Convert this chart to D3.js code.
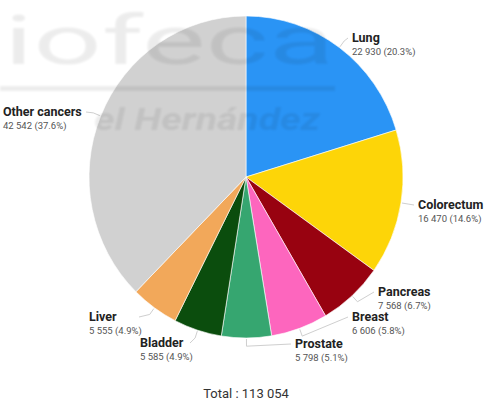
<!DOCTYPE html>
<html>
<head>
<meta charset="utf-8">
<script src="https://cdn.jsdelivr.net/npm/d3@7"></script>
<style>
  body { margin: 0; background: #fff; }
  svg { display: block; font-family: Roboto, "Liberation Sans", Arial, sans-serif; }
</style>
</head>
<body>
<div class="canva"></div>
<script>
// data
const cancers = ["Lung", "Colorectum", "Pancreas", "Breast", "Prostate", "Bladder", "Liver", "Other cancers"];
const cases = [22930, 16470, 7568, 6606, 5798, 5585, 5555, 42542];
const sliceColors = ["#2a94f5", "#fdd508", "#980210", "#fd66be", "#36a670", "#0b4d0d", "#f2a85a", "#d1d1d1"];
const totalLabel = "Total : 113 054";

// label layout (name baseline anchor), kept apart from data
const labelAt = {
  "Lung": [352, 42], "Colorectum": [418, 209], "Pancreas": [378, 296], "Breast": [352, 321],
  "Prostate": [295, 348], "Bladder": [140, 347], "Liver": [89, 321], "Other cancers": [3, 116]
};

const width = 486, height = 403;
const cx = 246, cy = 177, r = 157, ry = 161;

const svg = d3.select(".canva").append("svg")
  .attr("width", width)
  .attr("height", height);

const data = cancers.map((name, i) => ({ name, value: cases[i], color: sliceColors[i] }));
const total = d3.sum(cases);
const fmt = v => d3.format(",")(v).replace(/,/g, " ");

const pie = d3.pie().sort(null).value(d => d.value);
const arcs = pie(data);
const arc = d3.arc().innerRadius(0).outerRadius(r);

// slices (slightly taller than wide, like the source)
const pieG = svg.append("g")
  .attr("transform", `translate(${cx}, ${cy}) scale(1, ${ry / r})`);

pieG.selectAll("path")
  .data(arcs)
  .join("path")
  .attr("d", arc)
  .attr("fill", d => d.data.color)
  .attr("stroke", "#fff")
  .attr("stroke-width", 0.6);

// leader lines
const pt = (a, rad) => [cx + rad * Math.sin(a), cy - rad * (ry / r) * Math.cos(a)];
svg.append("g").selectAll("polyline")
  .data(arcs)
  .join("polyline")
  .attr("fill", "none")
  .attr("stroke", "#cfcfcf")
  .attr("stroke-width", 1)
  .attr("points", d => {
    const a = (d.startAngle + d.endAngle) / 2;
    const p0 = pt(a, r + 1);
    const p1 = pt(a, r + 8);
    const [lx, ly] = labelAt[d.data.name];
    const right = Math.sin(a) >= 0;
    const ex = d.data.name === "Other cancers" ? 86 : (right ? lx - 4 : lx + 50);
    const p2 = [ex, ly - 4];
    return [p0, p1, p2].map(p => p.join(",")).join(" ");
  });

// labels
const labels = svg.append("g").selectAll("g")
  .data(arcs)
  .join("g")
  .attr("transform", d => `translate(${labelAt[d.data.name][0]}, ${labelAt[d.data.name][1]})`);

labels.append("text")
  .attr("font-size", 12.5)
  .attr("font-weight", "bold")
  .attr("fill", "#222")
  .text(d => d.data.name);

labels.append("text")
  .attr("y", 13)
  .attr("font-size", 9.5)
  .attr("fill", "#555")
  .text(d => `${fmt(d.data.value)} (${(d.data.value / total * 100).toFixed(1)}%)`);

svg.append("text")
  .attr("x", cx)
  .attr("y", 398)
  .attr("text-anchor", "middle")
  .attr("font-size", 13)
  .attr("fill", "#333")
  .text(totalLabel);

// faint, blurred watermark over everything
svg.append("defs").append("filter")
  .attr("id", "blur")
  .append("feGaussianBlur")
  .attr("stdDeviation", 1.3);

const wm = svg.append("g")
  .attr("opacity", 0.07)
  .attr("fill", "#000")
  .attr("filter", "url(#blur)");
wm.append("text")
  .attr("x", 4).attr("y", 64)
  .attr("font-size", 68)
  .attr("textLength", 330)
  .attr("lengthAdjust", "spacingAndGlyphs")
  .text("iofeca");
wm.append("rect").attr("x", 0).attr("y", 86).attr("width", 335).attr("height", 5);
wm.append("text")
  .attr("x", 94).attr("y", 130)
  .attr("font-size", 32)
  .attr("font-style", "italic")
  .attr("font-weight", "bold")
  .attr("textLength", 226)
  .attr("lengthAdjust", "spacingAndGlyphs")
  .text("el Hernández");
</script>
</body>
</html>
